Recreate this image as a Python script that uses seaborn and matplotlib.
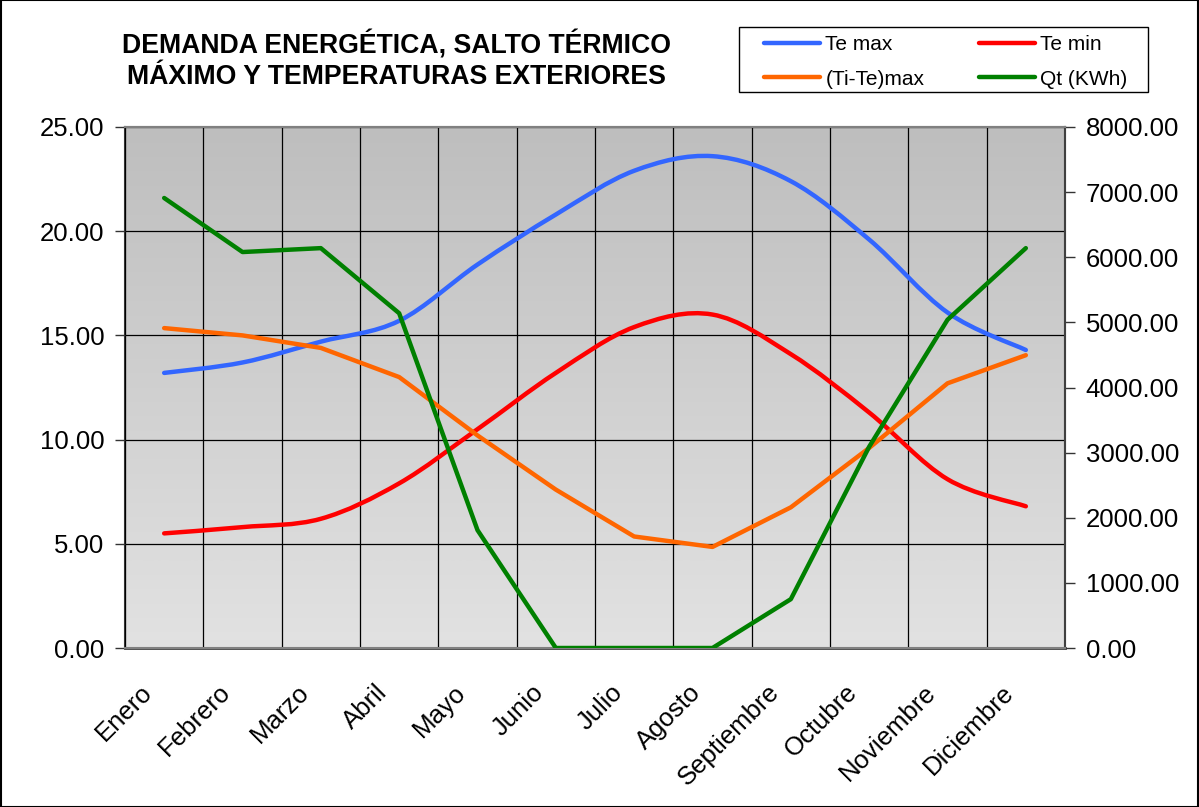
import numpy as np
import matplotlib
matplotlib.use("Agg")
import matplotlib.pyplot as plt
import seaborn as sns
from matplotlib.path import Path
from matplotlib.patches import PathPatch, Rectangle
from matplotlib.lines import Line2D
from matplotlib.colors import LinearSegmentedColormap
from matplotlib.ticker import FixedLocator, FormatStrFormatter
from matplotlib.transforms import ScaledTranslation

meses = ["Enero", "Febrero", "Marzo", "Abril", "Mayo", "Junio", "Julio",
         "Agosto", "Septiembre", "Octubre", "Noviembre", "Diciembre"]
te_max = [13.2, 13.7, 14.7, 15.7, 18.4, 20.8, 22.9, 23.6, 22.4, 19.6, 16.1, 14.3]
te_min = [5.5, 5.8, 6.2, 7.9, 10.5, 13.2, 15.4, 16.0, 14.1, 11.3, 8.1, 6.8]
ti_te_max = [15.35, 15.0, 14.4, 13.0, 10.2, 7.6, 5.35, 4.85, 6.75, 9.6, 12.7, 14.05]
qt = [6910, 6080, 6140, 5140, 1810, 0, 0, 0, 750, 3090, 5040, 6140]

sns.set_style("white")
plt.rcParams["font.family"] = ["Liberation Sans", "DejaVu Sans"]
plt.rcParams["text.color"] = "black"
plt.rcParams["xtick.color"] = "black"
plt.rcParams["ytick.color"] = "black"
plt.rcParams["xtick.labelcolor"] = "black"
plt.rcParams["ytick.labelcolor"] = "black"

c_max = "#3366FF"
c_min = "#FF0000"
c_dif = "#FF6600"
c_qt = "#008000"


def smooth_path(x, y):
    # curva tipo "linea suavizada" de Excel (Bezier a partir de los puntos)
    n = len(x)
    verts = [(x[0], y[0])]
    codes = [Path.MOVETO]
    for i in range(n - 1):
        a = i - 1 if i > 0 else i
        d = i + 2 if i + 2 < n else i + 1
        c1 = (x[i] + (x[i + 1] - x[a]) / 6, y[i] + (y[i + 1] - y[a]) / 6)
        c2 = (x[i + 1] - (x[d] - x[i]) / 6, y[i + 1] - (y[d] - y[i]) / 6)
        verts += [c1, c2, (x[i + 1], y[i + 1])]
        codes += [Path.CURVE4] * 3
    return Path(verts, codes)


fig = plt.figure(figsize=(11.99, 8.07), dpi=100)
ax = fig.add_axes([125 / 1199, 1 - 648 / 807, 940 / 1199, 521 / 807])
ax2 = ax.twinx()

x = np.arange(len(meses))

# fondo degradado
cmap = LinearSegmentedColormap.from_list("g", ["#E2E2E2", "#BEBEBE"])
ax.imshow(np.linspace(0, 1, 256).reshape(-1, 1), cmap=cmap, origin="lower",
          extent=[0, 1, 0, 1], transform=ax.transAxes, aspect="auto", zorder=0)

ax.set_xlim(-0.5, len(meses) - 0.5)
ax.set_ylim(0, 25)
ax2.set_ylim(0, 8000)

for vals, col in [(te_max, c_max), (te_min, c_min)]:
    ax.add_patch(PathPatch(smooth_path(x, vals), fill=False, edgecolor=col,
                           lw=3.2, capstyle="round", zorder=4))
sns.lineplot(x=x, y=ti_te_max, ax=ax, color=c_dif, lw=3.2, legend=False,
             zorder=4, solid_capstyle="round")
sns.lineplot(x=x, y=qt, ax=ax2, color=c_qt, lw=3.2, legend=False,
             zorder=4, solid_capstyle="round")
ax.set_xlim(-0.5, len(meses) - 0.5)

# rejilla y ejes
ax.set_yticks(np.arange(0, 26, 5))
ax.yaxis.set_major_formatter(FormatStrFormatter("%.2f"))
ax.set_xticks(x)
ax.set_xticklabels([])
off = ScaledTranslation(-0.24, -0.32, fig.dpi_scale_trans)
for i, m in enumerate(meses):
    ax.text(x[i], 0, m, transform=ax.get_xaxis_transform() + off,
            rotation=45, ha="right", va="top", rotation_mode="anchor",
            fontsize=18.5, clip_on=False)
ax.xaxis.set_minor_locator(FixedLocator(np.arange(-0.5, len(meses), 1)))
ax.tick_params(axis="x", which="major", length=0)
ax.tick_params(axis="x", which="minor", length=8, width=1, color="#333333",
               direction="out")
ax.tick_params(axis="y", length=7, width=1, color="#333333", labelsize=18.5,
               pad=8)
ax.grid(False)
ax.grid(True, axis="x", which="minor", color="black", lw=0.9, zorder=1)
ax.grid(True, axis="y", which="major", color="black", lw=0.9, zorder=1)
ax.set_axisbelow(False)

ax2.set_yticks(np.arange(0, 8001, 1000))
ax2.yaxis.set_major_formatter(FormatStrFormatter("%.2f"))
ax2.tick_params(axis="y", length=7, width=1, color="#333333", labelsize=18.5,
                pad=8, right=True)
ax2.grid(False)
ax.set_xlabel("")
ax.set_ylabel("")
ax2.set_xlabel("")
ax2.set_ylabel("")

for a in (ax, ax2):
    for s in a.spines.values():
        s.set_color("#808080")
        s.set_linewidth(1.5)
ax.spines["left"].set_color("#333333")
ax2.spines["left"].set_visible(False)
ax.spines["bottom"].set_color("#404040")
ax.spines["bottom"].set_linewidth(2)
ax2.spines["right"].set_color("#404040")

# titulo
fig.text(396 / 1199, 1 - 45 / 807, "DEMANDA ENERGÉTICA, SALTO TÉRMICO",
         ha="center", va="center", fontsize=19.2, fontweight="bold")
fig.text(396 / 1199, 1 - 77 / 807, "MÁXIMO Y TEMPERATURAS EXTERIORES",
         ha="center", va="center", fontsize=19.2, fontweight="bold")

# leyenda
handles = [Line2D([], [], color=c_max, lw=3.2),
           Line2D([], [], color=c_dif, lw=3.2),
           Line2D([], [], color=c_min, lw=3.2),
           Line2D([], [], color=c_qt, lw=3.2)]
labels = ["Te max", "(Ti-Te)max", "Te min", "Qt (KWh)"]
fig.legend(handles, labels, loc="upper left",
           bbox_to_anchor=(764 / 1199, 1 - 35 / 807), ncol=2,
           frameon=False, fontsize=15, handlelength=2.7,
           handletextpad=0.25, columnspacing=2.6, borderpad=0,
           labelspacing=0.75, borderaxespad=0)
fig.patches.append(Rectangle((739 / 1199, 1 - 92 / 807), 409 / 1199,
                             65 / 807, transform=fig.transFigure,
                             facecolor="white", edgecolor="black", lw=1,
                             zorder=0))

fig.patches.append(Rectangle((0.0005, 0.0005), 0.999, 0.999,
                             transform=fig.transFigure, fill=False,
                             edgecolor="black", lw=1.5))

fig.savefig("out.png", dpi=100)
